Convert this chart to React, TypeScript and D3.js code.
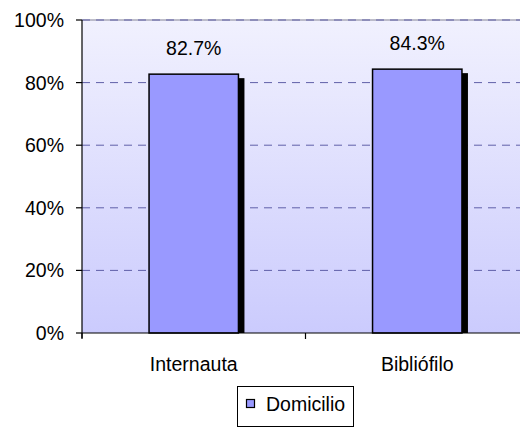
import React from "react";
import * as d3 from "d3";

const categories = ["Internauta", "Bibliófilo"];
const values = [82.7, 84.3];
const valueLabels = ["82.7%", "84.3%"];
const yTicks = [0, 20, 40, 60, 80, 100];
const seriesName = "Domicilio";

const W = 520;
const H = 428;
const left = 82;
const right = 529;
const top = 20;
const bottom = 333;
const font = "'Liberation Sans', Arial, sans-serif";

export default function App() {
  const x = d3.scaleBand<string>().domain(categories).range([left, right]).paddingInner(0.6).paddingOuter(0.3);
  const y = d3.scaleLinear().domain([0, 100]).range([bottom, top]);
  const step = x.step();
  const catTicks = d3.range(categories.length + 1).map((i) => left + i * step);

  return (
    <svg width={W} height={H} style={{ position: "absolute", left: 0, top: 0 }} fontFamily={font}>
      <defs>
        <linearGradient id="bg" x1="0" y1="0" x2="0" y2="1">
          <stop offset="0" stopColor="#F1F1FE" />
          <stop offset="1" stopColor="#CBCBFD" />
        </linearGradient>
      </defs>
      <rect x={0} y={0} width={W} height={H} fill="#fff" />
      <rect x={left} y={top} width={right - left} height={bottom - top} fill="url(#bg)" />
      <line x1={left} x2={right} y1={top} y2={top} stroke="#A8A8B8" strokeWidth={1.5} />
      {yTicks.filter((t) => t > 0).map((t) => (
        <line key={t} x1={left} x2={right} y1={y(t)} y2={y(t)} stroke="#6060A8" strokeWidth={1} strokeDasharray="8,6" />
      ))}
      {categories.map((c, i) => {
        const bx = x(c)!;
        const bw = x.bandwidth();
        const by = y(values[i]);
        return (
          <g key={c}>
            <rect x={bx + 6} y={by + 4} width={bw} height={bottom - by - 4} fill="#000" />
            <rect x={bx} y={by} width={bw} height={bottom - by} fill="#9999FF" stroke="#000" strokeWidth={1.5} />
            <text x={bx + bw / 2} y={by - 19} textAnchor="middle" fontSize={19.5} fill="#000">{valueLabels[i]}</text>
            <text x={bx + bw / 2} y={371} textAnchor="middle" fontSize={19.5} fill="#000">{c}</text>
          </g>
        );
      })}
      <line x1={left} x2={left} y1={top} y2={bottom + 5} stroke="#000" strokeWidth={1.2} />
      <line x1={left} x2={right} y1={bottom} y2={bottom} stroke="#000" strokeWidth={1.2} />
      {yTicks.map((t) => (
        <g key={t}>
          <line x1={left - 6} x2={left} y1={y(t)} y2={y(t)} stroke="#000" strokeWidth={1.2} />
          <text x={64} y={y(t) + 7} textAnchor="end" fontSize={19.5} fill="#000">{t}%</text>
        </g>
      ))}
      {catTicks.map((t, i) => (
        <line key={i} x1={t} x2={t} y1={bottom} y2={bottom + 6} stroke="#000" strokeWidth={1.2} />
      ))}
      <rect x={237.5} y={386.5} width={116} height={40} fill="#fff" stroke="#000" strokeWidth={1} />
      <rect x={246.5} y={399.5} width={8} height={8} fill="#9999FF" stroke="#000" strokeWidth={1.2} />
      <text x={266} y={411} fontSize={19.5} fill="#000">{seriesName}</text>
    </svg>
  );
}
